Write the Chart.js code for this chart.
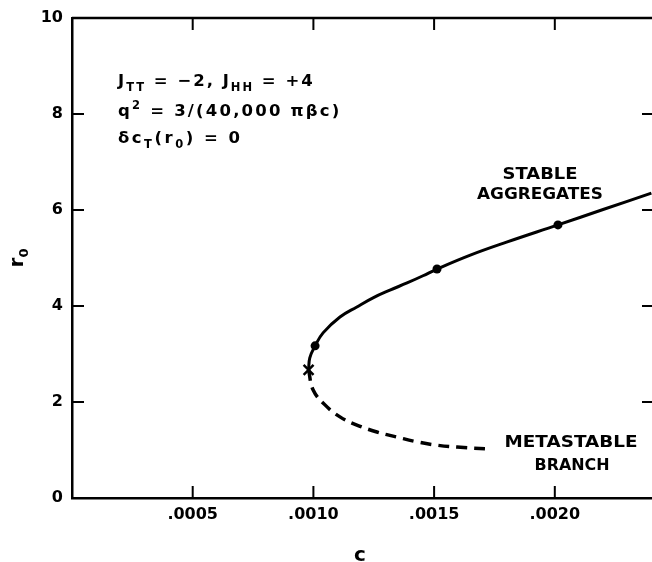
<!DOCTYPE html>
<html><head><meta charset="utf-8">
<script src="https://cdn.jsdelivr.net/npm/chart.js@4/dist/chart.umd.min.js"></script>
<style>html,body{margin:0;padding:0;background:#fff;overflow:hidden;} canvas{display:block;}</style>
</head><body>
<canvas id="c" width="652" height="562"></canvas>
<script>
// ---- data ----
const stableC = [0.00098, 0.000985, 0.001007, 0.00104, 0.00111, 0.00118, 0.001247, 0.001317, 0.001388, 0.001454, 0.001512, 0.00165, 0.0018, 0.002013, 0.0022, 0.0024];
const stableR = [2.67, 2.92, 3.17, 3.44, 3.77, 3.98, 4.17, 4.33, 4.48, 4.63, 4.77, 5.06, 5.33, 5.69, 6.01, 6.35];
const metaC = [0.00098, 0.000999, 0.001048, 0.00111, 0.00118, 0.001263, 0.001346, 0.001429, 0.001512, 0.001595, 0.00174];
const metaR = [2.67, 2.25, 1.94, 1.69, 1.52, 1.375, 1.27, 1.17, 1.10, 1.06, 1.02];
const dotC = [0.001007, 0.001512, 0.002013];
const dotR = [3.17, 4.77, 5.69];
const crossC = [0.00098];
const crossR = [2.67];
const xTickValues = [0.0005, 0.0010, 0.0015, 0.0020];
const xTickLabels = ['.0005', '.0010', '.0015', '.0020'];
const yTickValues = [2, 4, 6, 8];
const xTitle = 'c';

const FAM = '"DejaVu Sans", sans-serif';
const toXY = (xs, ys) => xs.map((x, i) => ({x, y: ys[i]}));

function rich(ctx, x, y, segs, spacing) {
  let cx = x;
  ctx.letterSpacing = (spacing || 0) + 'px';
  for (const [t, size, dy] of segs) {
    ctx.font = 'bold ' + size + 'px ' + FAM;
    ctx.fillText(t, cx, y + (dy || 0));
    cx += ctx.measureText(t).width;
  }
  ctx.letterSpacing = '0px';
}
function fitText(ctx, t, cx, y, w, size) {
  ctx.font = 'bold ' + size + 'px ' + FAM;
  ctx.textAlign = 'left';
  const mw = ctx.measureText(t).width;
  ctx.save();
  ctx.translate(cx - w / 2, y);
  ctx.scale(w / mw, 1);
  ctx.fillText(t, 0, 0);
  ctx.restore();
}

const framePlugin = {
  id: 'frame',
  afterDraw(chart) {
    const {ctx, chartArea: a, scales} = chart;
    const xs = scales.x, ys = scales.y;
    ctx.save();
    ctx.strokeStyle = '#000';
    ctx.lineWidth = 2.5;
    ctx.beginPath();
    ctx.moveTo(a.left, a.top); ctx.lineTo(a.right + 2, a.top);
    ctx.stroke();
    ctx.lineWidth = 2;
    const TL = 12;
    ctx.beginPath();
    for (const v of xTickValues) {
      const px = xs.getPixelForValue(v);
      ctx.moveTo(px, a.bottom); ctx.lineTo(px, a.bottom - TL);
      ctx.moveTo(px, a.top); ctx.lineTo(px, a.top + TL);
    }
    for (const v of yTickValues) {
      const py = ys.getPixelForValue(v);
      ctx.moveTo(a.left, py); ctx.lineTo(a.left + TL, py);
      ctx.moveTo(a.right + 2, py); ctx.lineTo(a.right - 10, py);
    }
    ctx.stroke();

    ctx.fillStyle = '#000';
    ctx.textBaseline = 'alphabetic';
    ctx.textAlign = 'left';
    rich(ctx, 118, 86, [['J', 16.5], ['TT', 11.5, 5], [' = −2, J', 16.5], ['HH', 11.5, 5], [' = +4', 16.5]], 2);
    rich(ctx, 118, 116, [['q', 16.5], ['2', 11.5, -7], [' = 3/(40,000 πβc)', 16.5]], 2.2);
    rich(ctx, 118, 143, [['δc', 16.5], ['T', 11.5, 5], ['(r', 16.5], ['0', 11.5, 5], [') = 0', 16.5]], 2.5);

    fitText(ctx, 'STABLE', 540, 179, 75, 16.5);
    fitText(ctx, 'AGGREGATES', 540, 199, 126, 16.5);
    fitText(ctx, 'METASTABLE', 571, 447, 133, 16.5);
    fitText(ctx, 'BRANCH', 572, 470, 75, 16.5);

    ctx.textAlign = 'center';
    ctx.font = 'bold 20px ' + FAM;
    ctx.fillText(xTitle, 360, 561);

    ctx.translate(23, 258);
    ctx.rotate(-Math.PI / 2);
    ctx.textAlign = 'left';
    ctx.font = 'bold 20px ' + FAM;
    const w1 = ctx.measureText('r').width;
    ctx.font = 'bold 13px ' + FAM;
    const w2 = ctx.measureText('0').width;
    rich(ctx, -(w1 + w2) / 2, 0, [['r', 20], ['0', 13, 5]]);
    ctx.restore();
  }
};

new Chart(document.getElementById('c'), {
  type: 'line',
  data: {
    datasets: [
      {data: toXY(stableC, stableR), borderColor: '#000', borderWidth: 3, tension: 0.4, pointRadius: 0, fill: false},
      {data: toXY(metaC, metaR), borderColor: '#000', borderWidth: 3.5, borderDash: [11, 7], tension: 0.4, pointRadius: 0, fill: false},
      {data: toXY(dotC, dotR), showLine: false, pointRadius: 4.5, pointBackgroundColor: '#000', pointBorderColor: '#000', borderWidth: 0},
      {data: toXY(crossC, crossR), showLine: false, pointStyle: 'crossRot', pointRadius: 7, pointBorderColor: '#000', pointBorderWidth: 2.5}
    ]
  },
  options: {
    responsive: false,
    animation: false,
    devicePixelRatio: 1,
    layout: {autoPadding: false, padding: {left: 0, top: 18, right: 0, bottom: 0}},
    plugins: {legend: {display: false}, tooltip: {enabled: false}},
    scales: {
      x: {
        type: 'linear', min: 0, max: 0.0024026,
        grid: {display: false, drawTicks: false},
        border: {display: true, color: '#000', width: 2.5},
        ticks: {
          stepSize: 0.0005, includeBounds: false, padding: 7, color: '#000',
          font: {family: FAM, size: 16, weight: 'bold'},
          callback: (v) => { const i = xTickValues.findIndex(t => Math.abs(t - v) < 1e-9); return i >= 0 ? xTickLabels[i] : ''; }
        },
        afterFit: (s) => { s.height = 64; s.paddingLeft = 0; s.paddingRight = 0; }
      },
      y: {
        min: 0, max: 10,
        grid: {display: false, drawTicks: false},
        border: {display: true, color: '#000', width: 2.5},
        ticks: {stepSize: 2, padding: 9, color: '#000', font: {family: FAM, size: 16, weight: 'bold'}},
        afterFit: (s) => { s.width = 72; s.paddingTop = 0; s.paddingBottom = 0; }
      }
    }
  },
  plugins: [framePlugin]
});
</script>
</body></html>
